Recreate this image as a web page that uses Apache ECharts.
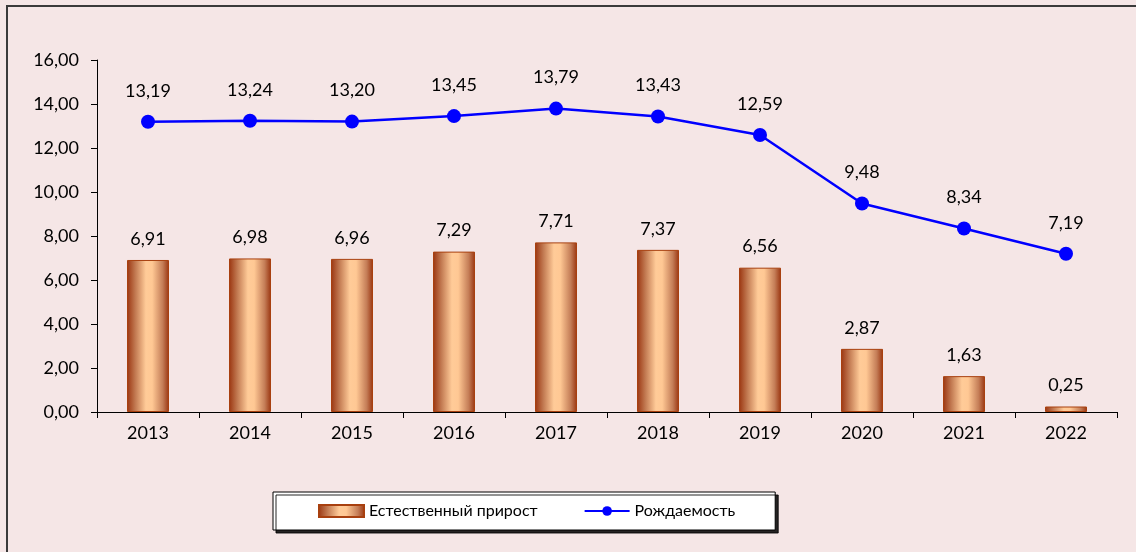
<!DOCTYPE html>
<html>
<head>
<meta charset="utf-8">
<script src="https://cdn.jsdelivr.net/npm/echarts@6/dist/echarts.min.js"></script>
<style>
html,body{margin:0;padding:0;background:#F5E6E6;}
#c{width:1136px;height:552px;}
</style>
</head>
<body>
<div id="c"></div>
<script>
var years = ['2013','2014','2015','2016','2017','2018','2019','2020','2021','2022'];
var naturalGrowth = [6.91, 6.98, 6.96, 7.29, 7.71, 7.37, 6.56, 2.87, 1.63, 0.25];
var birthRate = [13.19, 13.24, 13.20, 13.45, 13.79, 13.43, 12.59, 9.48, 8.34, 7.19];
var yTicks = {min: 0, max: 16, interval: 2};
var seriesNames = ['Естественный прирост', 'Рождаемость'];

function fmt(v){ return v.toFixed(2).replace('.', ','); }

var font = 'Lato, "Noto Sans", sans-serif';
function barGrad(){
  return new echarts.graphic.LinearGradient(0,0,1,0,[
    {offset:0, color:'#9A3510'},
    {offset:0.2, color:'#C27A52'},
    {offset:0.45, color:'#FFCB98'},
    {offset:0.6, color:'#FFC894'},
    {offset:0.85, color:'#C47D57'},
    {offset:1, color:'#9A3510'}
  ]);
}

var chart = echarts.init(document.getElementById('c'), null, {renderer:'canvas'});
chart.setOption({
  backgroundColor: '#F5E6E6',
  animation: false,
  graphic: [{
    type: 'rect', z: -1, silent: true,
    shape: {x: 7, y: 6, width: 1200, height: 600},
    style: {fill: 'none', stroke: '#3a3a3a', lineWidth: 2}
  }],
  grid: {left: 97, right: 19, top: 60, bottom: 140, containLabel: false},
  legend: {
    data: [{name: seriesNames[0], icon: 'rect'}, {name: seriesNames[1]}],
    left: 273, top: 492,
    backgroundColor: '#FFFFFF',
    borderColor: '#000', borderWidth: 1,
    shadowColor: 'rgba(0,0,0,0.85)', shadowOffsetX: 3, shadowOffsetY: 3, shadowBlur: 0,
    padding: [11, 40, 11, 45],
    itemGap: 46,
    itemWidth: 45, itemHeight: 12,
    textStyle: {fontFamily: font, fontSize: 16, color: '#000'}
  },
  xAxis: {
    type: 'category',
    data: years,
    axisLine: {lineStyle: {color: '#000', width: 1}},
    axisTick: {show: true, alignWithLabel: false, length: 6, lineStyle: {color: '#000'}},
    axisLabel: {fontFamily: font, fontSize: 18, color: '#000', margin: 12}
  },
  yAxis: {
    type: 'value',
    min: yTicks.min, max: yTicks.max, interval: yTicks.interval,
    splitLine: {show: false},
    axisLine: {show: true, lineStyle: {color: '#000', width: 1}},
    axisTick: {show: true, length: 6, lineStyle: {color: '#000'}},
    axisLabel: {fontFamily: font, fontSize: 18, color: '#000', margin: 18, formatter: function(v){return fmt(v);}}
  },
  series: [{
    name: seriesNames[0],
    type: 'bar',
    data: naturalGrowth,
    barWidth: 42,
    itemStyle: {color: barGrad(), borderColor: '#A8400F', borderWidth: 1},
    label: {show: true, position: 'top', distance: 12, fontFamily: font, fontSize: 18, color: '#000',
            formatter: function(p){return fmt(p.value);}}
  }, {
    name: seriesNames[1],
    type: 'line',
    data: birthRate,
    symbol: 'circle', symbolSize: 14,
    lineStyle: {color: '#0000FF', width: 2.5},
    itemStyle: {color: '#0000FF'},
    label: {show: true, position: 'top', distance: 15, fontFamily: font, fontSize: 18, color: '#000',
            formatter: function(p){return fmt(p.value);}}
  }]
});
</script>
</body>
</html>
